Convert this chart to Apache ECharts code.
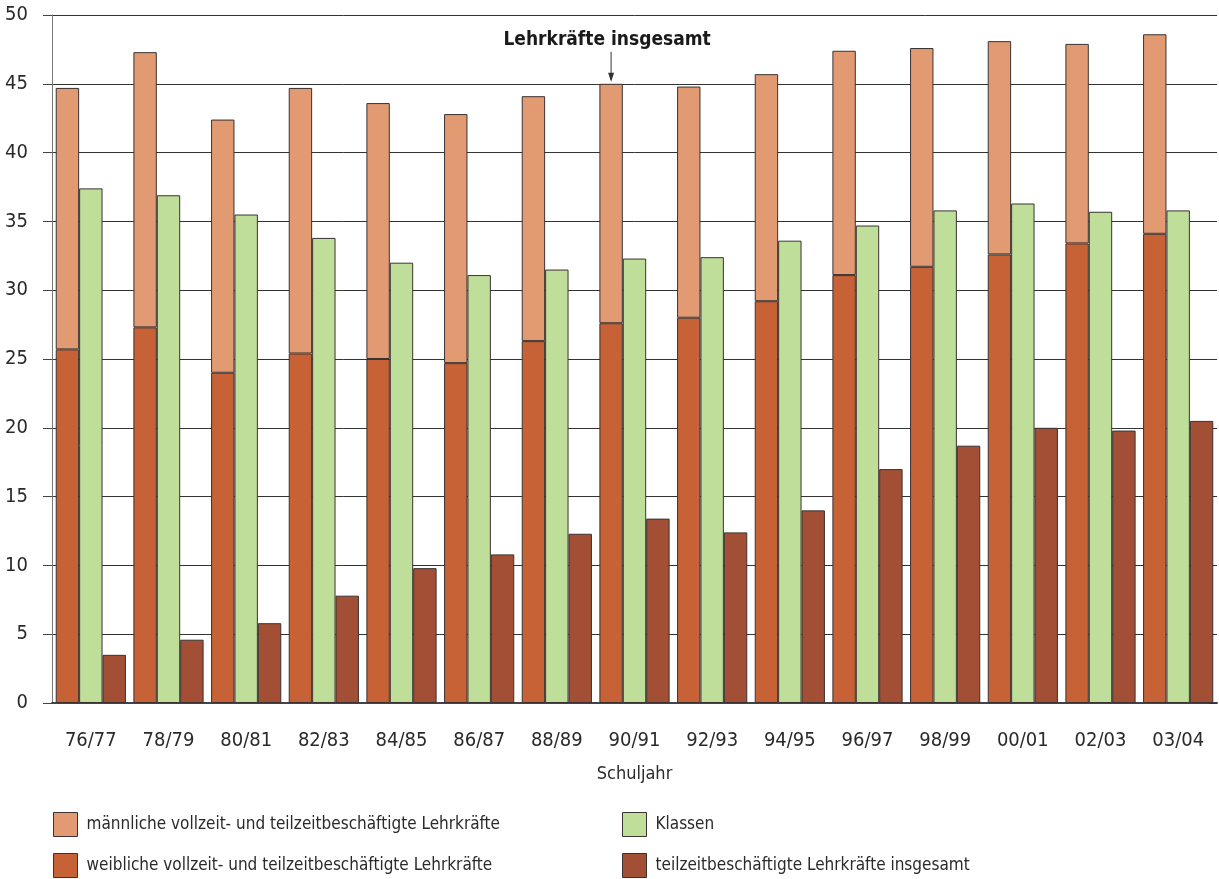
<!DOCTYPE html>
<html><head><meta charset="utf-8">
<script src="https://cdn.jsdelivr.net/npm/echarts@6/dist/echarts.min.js"></script>
<style>html,body{margin:0;padding:0;background:#fff}#c{width:1219px;height:879px}</style>
</head><body><div id="c"></div>
<script>
const categories = ['76/77','78/79','80/81','82/83','84/85','86/87','88/89','90/91','92/93','94/95','96/97','98/99','00/01','02/03','03/04'];
const totalTeachers = [44.7,47.3,42.4,44.7,43.6,42.8,44.1,45.0,44.8,45.7,47.4,47.6,48.1,47.9,48.6];
const femaleTeachers = [25.7,27.3,24.0,25.4,25.0,24.7,26.3,27.6,28.0,29.2,31.1,31.7,32.6,33.4,34.1];
const classes = [37.4,36.9,35.5,33.8,32.0,31.1,31.5,32.3,32.4,33.6,34.7,35.8,36.3,35.7,35.8];
const partTime = [3.5,4.6,5.8,7.8,9.8,10.8,12.3,13.4,12.4,14.0,17.0,18.7,20.0,19.8,20.5];
const maleTeachers = totalTeachers.map((t,i)=>+(t-femaleTeachers[i]).toFixed(1));
const yTicks = [0,5,10,15,20,25,30,35,40,45,50];

const FONT = "'DejaVu Sans Condensed','Liberation Sans Narrow',sans-serif";
const TXT = '#2a2a2a';
const BW = 23.4;
const border = {borderColor:'#3a3232', borderWidth:1};
const names = ['männliche vollzeit- und teilzeitbeschäftigte Lehrkräfte','weibliche vollzeit- und teilzeitbeschäftigte Lehrkräfte','Klassen','teilzeitbeschäftigte Lehrkräfte insgesamt'];

const chart = echarts.init(document.getElementById('c'));
const legendBase = {orient:'vertical',top:812,padding:0,itemWidth:24,itemHeight:24,itemGap:16,icon:'rect',
  itemStyle:{borderColor:'#3a3232',borderWidth:1},
  textStyle:{fontFamily:FONT,fontSize:17,color:TXT,padding:[3,0,0,4]}};
const option = {
  animation:false,
  textStyle:{fontFamily:FONT},
  grid:{left:52,right:2,top:15,bottom:176},
  legend:[
    Object.assign({data:[names[0],names[1]],left:53},legendBase),
    Object.assign({data:[names[2],names[3]],left:622},legendBase)
  ],
  xAxis:{type:'category',data:categories,name:'Schuljahr',nameLocation:'middle',nameGap:62,
    nameTextStyle:{fontFamily:FONT,fontSize:18,color:TXT},
    axisLine:{lineStyle:{color:'#444',width:2}},axisTick:{show:false},
    axisLabel:{fontFamily:FONT,fontSize:20,color:TXT,margin:28}},
  yAxis:[
    {type:'value',min:0,max:50,interval:5,
     axisLine:{show:true,lineStyle:{color:'#777',width:1}},
     axisTick:{show:true,length:9,lineStyle:{color:'#444'}},
     axisLabel:{fontFamily:FONT,fontSize:20,color:TXT,margin:24,formatter:v=>yTicks.includes(v)?String(v):''},
     splitLine:{lineStyle:{color:'#333',width:1}}},
    {type:'value',min:0,max:50,interval:5,position:'right',
     axisLine:{show:false},axisTick:{show:true,inside:true,length:8,lineStyle:{color:'#333'}},
     axisLabel:{show:false},splitLine:{show:false}}
  ],
  series:[
    {name:names[1],type:'bar',stack:'t',data:femaleTeachers,barWidth:BW,barGap:'0%',itemStyle:Object.assign({color:'#C66236'},border)},
    {name:names[0],type:'bar',stack:'t',data:maleTeachers,barWidth:BW,barGap:'0%',itemStyle:Object.assign({color:'#E29A72'},border)},
    {name:names[2],type:'bar',data:classes,barWidth:BW,barGap:'0%',itemStyle:Object.assign({color:'#BFDE9A'},border)},
    {name:names[3],type:'bar',data:partTime,barWidth:BW,barGap:'0%',itemStyle:Object.assign({color:'#A24F35'},border)}
  ]
};
chart.setOption(option);

// annotation: arrow pointing at total teachers bar of 90/91
const idx = categories.indexOf('90/91');
const p = chart.convertToPixel({xAxisIndex:0,yAxisIndex:0},[idx,totalTeachers[idx]]);
const bx = p[0] - BW;
const by = p[1];
chart.setOption({graphic:[
  {type:'text',x:bx-4,y:by-44,style:{text:'Lehrkräfte insgesamt',align:'center',verticalAlign:'middle',fontFamily:FONT,fontWeight:'bold',fontSize:19,fill:'#1a1a1a'}},
  {type:'line',shape:{x1:bx,y1:by-32,x2:bx,y2:by-4},style:{stroke:'#333',lineWidth:1}},
  {type:'polygon',shape:{points:[[bx-3,by-11],[bx+3,by-11],[bx,by-2]]},style:{fill:'#333'}}
]});
</script></body></html>
